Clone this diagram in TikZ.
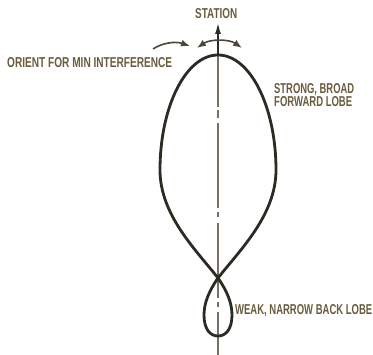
\documentclass[tikz,border=0pt]{standalone}
\usepackage{fontspec}
\setmainfont{Liberation Sans}
\usetikzlibrary{arrows.meta}
\definecolor{lobeC}{HTML}{2A2B22}
\definecolor{txtC}{HTML}{6B5B3E}
\definecolor{axisC}{HTML}{7A7060}
\definecolor{arrC}{HTML}{4E463A}
\newcommand{\lbl}[2]{\resizebox{#1pt}{10pt}{\bfseries #2}}
\tikzset{
  lbltext/.style={text=txtC, inner sep=0pt, anchor=base west},
  lobe/.style={draw=lobeC, line width=2.8pt, line join=round},
  axisline/.style={draw=axisC, line width=1.1pt},
  swing/.style={draw=arrC, line width=1.6pt},
  tipA/.tip={Latex[length=9pt,width=7pt]}
}
\begin{document}
\begin{tikzpicture}[x=1pt,y=-1pt]
\useasboundingbox (0,0) rectangle (373,355);
% key points
\coordinate (O) at (218,278);
\coordinate (top) at (218,55);
\coordinate (tip) at (218,22);
\coordinate (bot) at (218,355);
% axis (dash-dot)
\draw[axisline, dash pattern=on 43pt off 5pt on 5pt off 4pt on 75pt off 6pt on 5pt off 4pt on 85pt off 5pt on 8pt off 3pt on 60pt off 10pt] (bot) -- (top);
% big forward lobe
\draw[lobe] (O) .. controls (240,250) and (276,215) .. (276,170)
  arc[start angle=0, end angle=-180, x radius=58, y radius=115]
  .. controls (160,215) and (196,250) .. (O);
% small back lobe
\draw[lobe] (O) .. controls (227,291) and (232,303) .. (232,315)
  .. controls (232,329) and (226,336) .. (218,336)
  .. controls (210,336) and (204,329) .. (204,315)
  .. controls (204,303) and (209,291) .. (O);
% station arrow
\draw[draw=lobeC, line width=2pt, -{Latex[length=12pt,width=6pt]}] (top) -- (tip);
% orientation arrows
\coordinate (la) at (153,49);
\coordinate (lb) at (190,46);
\coordinate (ra) at (197,48);
\coordinate (rb) at (242,48);
\draw[swing, -tipA] (la) .. controls (162,43) and (175,41) .. (lb);
\draw[swing, tipA-tipA] (ra) .. controls (210,39) and (229,39) .. (rb);
% labels
\node[lbltext] (station) at (195,19) {\lbl{42}{STATION}};
\node[lbltext] (orient) at (7,68) {\lbl{165}{ORIENT FOR MIN INTERFERENCE}};
\node[lbltext] (strong) at (274,94) {\lbl{80}{STRONG, BROAD}};
\node[lbltext] (forward) at (274,107) {\lbl{78}{FORWARD LOBE}};
\node[lbltext] (weak) at (235,315) {\lbl{137}{WEAK, NARROW BACK LOBE}};
\end{tikzpicture}
\end{document}
